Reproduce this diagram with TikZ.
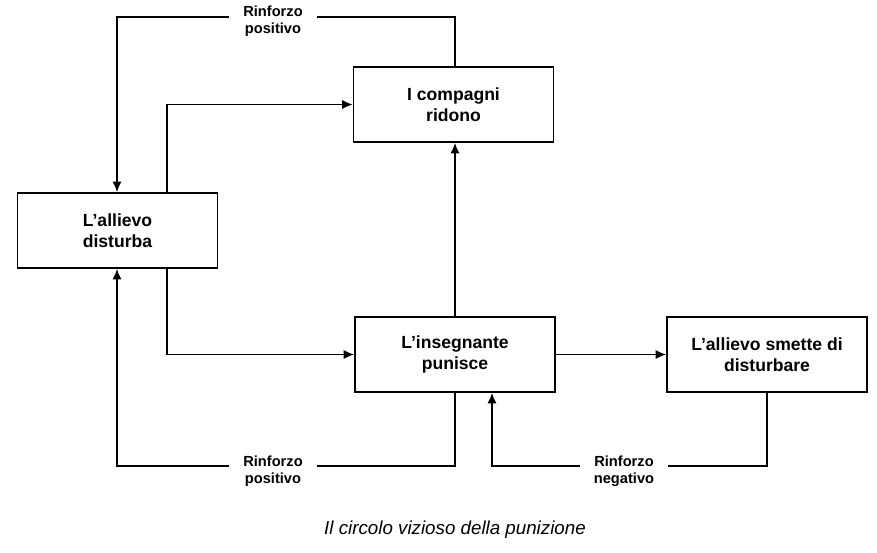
\documentclass[tikz,border=0pt]{standalone}
\usepackage{fontspec}
\setmainfont{Liberation Sans}
\usetikzlibrary{positioning,arrows.meta}
\begin{document}
\begin{tikzpicture}[x=0.03cm,y=-0.03cm,
	box/.style={draw,line width=1.5pt,minimum width=6cm,minimum height=2.25cm,align=center,font=\fontsize{15}{17.5}\selectfont\bfseries},
	lbl/.style={fill=white,align=center,inner xsep=12pt,inner ysep=2pt,font=\fontsize{12.5}{14.5}\selectfont\bfseries},
	arr/.style={-{Latex[length=9pt,width=8pt]}}]
\useasboundingbox (0,0) rectangle (877,552);

\begin{scope}
	%Boxes
	\node[box] (ridono) at (453.5,104.5) {I compagni\\ridono};
	\node[box] (disturba) at (117.5,230.5) {L’allievo\\disturba};
	\node[box] (punisce) at (455,354.5) {L’insegnante\\punisce};
	\node[box] (smette) at (767,354.5) {L’allievo smette di\\disturbare};
\end{scope}

\begin{scope}
	%Bends
	\coordinate (t1) at (455,17);
	\coordinate (t2) at (117,17);
	\coordinate (b1) at (455,466);
	\coordinate (b2) at (117,466);
	\coordinate (n1) at (767,466);
	\coordinate (n2) at (492,466);
\end{scope}

\begin{scope}[line width=1.5pt]
	%Loops
	\draw[arr] (ridono.north -| t1) -- (t1) -- (t2) -- (disturba.north -| t2);
	\draw[arr] (disturba.north -| 167,0) |- (ridono.west);
	\draw[arr] (disturba.south -| 167,0) |- (punisce.west);
	\draw[arr] (punisce.north) -- (ridono.south -| punisce.north);
	\draw[arr] (punisce.east) -- (smette.west);
	\draw[arr] (punisce.south -| b1) -- (b1) -- (b2) -- (disturba.south -| b2);
	\draw[arr] (smette.south) -- (n1) -- (n2) -- (punisce.south -| n2);
\end{scope}

\begin{scope}
	%Labels
	\node[lbl] (pos1) at (273,21) {Rinforzo\\positivo};
	\node[lbl] (pos2) at (273,471) {Rinforzo\\positivo};
	\node[lbl] (neg) at (624,471) {Rinforzo\\negativo};
	\node[font=\fontsize{16}{18}\selectfont\itshape] (caption) at (455,530) {Il circolo vizioso della punizione};
\end{scope}

\end{tikzpicture}
\end{document}
